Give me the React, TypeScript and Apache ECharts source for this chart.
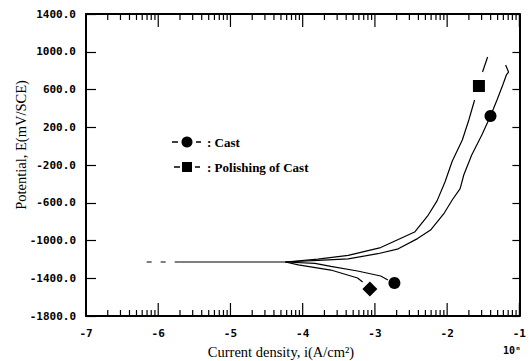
import React, { useEffect, useRef } from "react";
import * as echarts from "echarts";

// log10 of current density (A/cm^2) vs potential (mV/SCE)
const ecorrDashed: number[][] = [[-6.16, -1228], [-5.71, -1228]];
const ecorrSolid: number[][] = [[-5.71, -1228], [-4.24, -1228]];

const castAnodic: number[][] = [
  [-4.24, -1228], [-3.79, -1210], [-3.37, -1194], [-2.96, -1140], [-2.69, -1092],
  [-2.41, -980], [-2.23, -889], [-2.04, -709], [-1.93, -571], [-1.82, -450],
  [-1.77, -306], [-1.66, -94], [-1.52, 118], [-1.40, 319], [-1.31, 489],
  [-1.23, 648], [-1.18, 754], [-1.15, 785], [-1.19, 860],
];
const castCathodic: number[][] = [
  [-4.24, -1228], [-3.83, -1242], [-3.61, -1275], [-3.24, -1323], [-2.92, -1376], [-2.82, -1418],
];
const polishAnodicLow: number[][] = [
  [-4.24, -1228], [-3.79, -1198], [-3.37, -1158], [-2.92, -1075], [-2.45, -910],
  [-2.27, -740], [-2.14, -580], [-2.03, -380], [-1.93, -160], [-1.79, 65],
  [-1.70, 277], [-1.62, 489],
];
const polishAnodicHigh: number[][] = [[-1.51, 785], [-1.44, 944]];
const polishCathodic: number[][] = [
  [-4.24, -1228], [-4.06, -1258], [-3.61, -1313], [-3.24, -1397], [-3.17, -1440],
];

const castMarkers: number[][] = [[-1.40, 319], [-2.73, -1450]];
const polishSquare: number[][] = [[-1.56, 637]];
const polishDiamond: number[][] = [[-3.07, -1514]];

const xDecades = [-7, -6, -5, -4, -3, -2, -1];
const yMin = -1800;
const yMax = 1400;
const yStep = 400;

export default function App() {
  const ref = useRef<HTMLDivElement>(null);
  useEffect(() => {
    if (!ref.current) return;
    const chart = echarts.init(ref.current, null, { renderer: "svg" });

    const logTicks: number[][] = [];
    for (let i = 0; i < xDecades.length; i++) {
      logTicks.push([xDecades[i], 1]);
      if (i < xDecades.length - 1) {
        for (let k = 2; k <= 9; k++) logTicks.push([xDecades[i] + Math.log10(k), 0]);
      }
    }

    const lineStyle = { color: "#000", width: 1.2 };
    const lineSeries = (data: number[][], dashed = false) => ({
      type: "line",
      data,
      showSymbol: false,
      symbol: "none",
      lineStyle: dashed ? { ...lineStyle, type: [5, 9] } : lineStyle,
      z: 3,
      silent: true,
    });

    const monoFont = { fontFamily: "DejaVu Sans Mono", fontWeight: "bold", fontSize: 11, color: "#000" };
    const markerStyle = { color: "#000", opacity: 1 };

    chart.setOption({
      animation: false,
      grid: { left: 86, right: 6, top: 14, bottom: 45 },
      xAxis: [
        {
          type: "value",
          min: -7,
          max: -1,
          interval: 1,
          axisLine: { show: true, onZero: false, lineStyle: { color: "#000", width: 2 } },
          axisTick: { show: false },
          splitLine: { show: false },
          axisLabel: { ...monoFont, margin: 12, formatter: (v: number) => String(v) },
        },
        {
          type: "value",
          position: "top",
          min: -7,
          max: -1,
          interval: 1,
          axisLine: { show: true, onZero: false, lineStyle: { color: "#000", width: 2 } },
          axisTick: { show: false },
          axisLabel: { show: false },
          splitLine: { show: false },
        },
      ],
      yAxis: [
        {
          type: "value",
          min: yMin,
          max: yMax,
          interval: yStep,
          axisLine: { show: true, onZero: false, lineStyle: { color: "#000", width: 2 } },
          axisTick: { show: true, inside: true, length: 10, lineStyle: { color: "#000", width: 1.2 } },
          splitLine: { show: false },
          axisLabel: { ...monoFont, margin: 10, formatter: (v: number) => v.toFixed(1) },
        },
        {
          type: "value",
          position: "right",
          min: yMin,
          max: yMax,
          interval: yStep,
          axisLine: { show: true, onZero: false, lineStyle: { color: "#000", width: 2 } },
          axisTick: { show: true, inside: true, length: 7, lineStyle: { color: "#000", width: 1.2 } },
          axisLabel: { show: false },
          splitLine: { show: false },
        },
      ],
      series: [
        {
          type: "custom",
          data: logTicks,
          silent: true,
          renderItem: (params: any, api: any) => {
            const x = api.value(0);
            const major = api.value(1) === 1;
            const b = api.coord([x, yMin]);
            const t = api.coord([x, yMax]);
            const len = major ? 13 : 6;
            const style = { stroke: "#000", lineWidth: 1.2 };
            return {
              type: "group",
              children: [
                { type: "line", shape: { x1: b[0], y1: b[1], x2: b[0], y2: b[1] - len }, style },
                { type: "line", shape: { x1: t[0], y1: t[1], x2: t[0], y2: t[1] + len }, style },
              ],
            };
          },
        },
        lineSeries(ecorrDashed, true),
        lineSeries(ecorrSolid),
        lineSeries(castAnodic),
        lineSeries(castCathodic),
        lineSeries(polishAnodicLow),
        lineSeries(polishAnodicHigh),
        lineSeries(polishCathodic),
        {
          type: "scatter",
          data: castMarkers,
          symbol: "circle",
          symbolSize: 12,
          itemStyle: markerStyle,
          z: 5,
        },
        {
          type: "scatter",
          data: polishSquare,
          symbol: "rect",
          symbolSize: 12,
          itemStyle: markerStyle,
          z: 5,
        },
        {
          type: "scatter",
          data: polishDiamond,
          symbol: "diamond",
          symbolSize: [15, 15],
          itemStyle: markerStyle,
          z: 5,
        },
      ],
      graphic: [
        {
          type: "text",
          x: 21,
          y: 145,
          rotation: Math.PI / 2,
          style: {
            text: "Potential, E(mV/SCE)",
            fontFamily: "Liberation Serif",
            fontSize: 14.5,
            fill: "#000",
            align: "center",
            verticalAlign: "middle",
          },
        },
        {
          type: "text",
          x: 281,
          y: 352,
          style: {
            text: "Current density, i(A/cm²)",
            fontFamily: "Liberation Serif",
            fontSize: 14.5,
            fill: "#000",
            align: "center",
            verticalAlign: "middle",
          },
        },
        {
          type: "text",
          x: 512,
          y: 350,
          style: {
            text: "10ⁿ",
            fontFamily: "DejaVu Sans Mono",
            fontWeight: "bold",
            fontSize: 10,
            fill: "#000",
            align: "center",
            verticalAlign: "middle",
          },
        },
        // legend
        { type: "line", shape: { x1: 172, y1: 142, x2: 178, y2: 142 }, style: { stroke: "#000", lineWidth: 1.5 } },
        { type: "circle", shape: { cx: 187, cy: 142, r: 5.5 }, style: { fill: "#000" } },
        { type: "line", shape: { x1: 196, y1: 142, x2: 201, y2: 142 }, style: { stroke: "#000", lineWidth: 1.5 } },
        {
          type: "text",
          x: 207,
          y: 142,
          style: { text: ": Cast", fontFamily: "Liberation Serif", fontWeight: "bold", fontSize: 13, fill: "#000", verticalAlign: "middle" },
        },
        { type: "line", shape: { x1: 174, y1: 167, x2: 180, y2: 167 }, style: { stroke: "#000", lineWidth: 1.5 } },
        { type: "rect", shape: { x: 182, y: 162, width: 10, height: 10 }, style: { fill: "#000" } },
        { type: "line", shape: { x1: 195, y1: 167, x2: 200, y2: 167 }, style: { stroke: "#000", lineWidth: 1.5 } },
        {
          type: "text",
          x: 207,
          y: 167,
          style: { text: ": Polishing of Cast", fontFamily: "Liberation Serif", fontWeight: "bold", fontSize: 13, fill: "#000", verticalAlign: "middle" },
        },
      ],
    });
    return () => chart.dispose();
  }, []);
  return <div ref={ref} style={{ width: 529, height: 361, position: "absolute", left: 0, top: 0 }} />;
}
